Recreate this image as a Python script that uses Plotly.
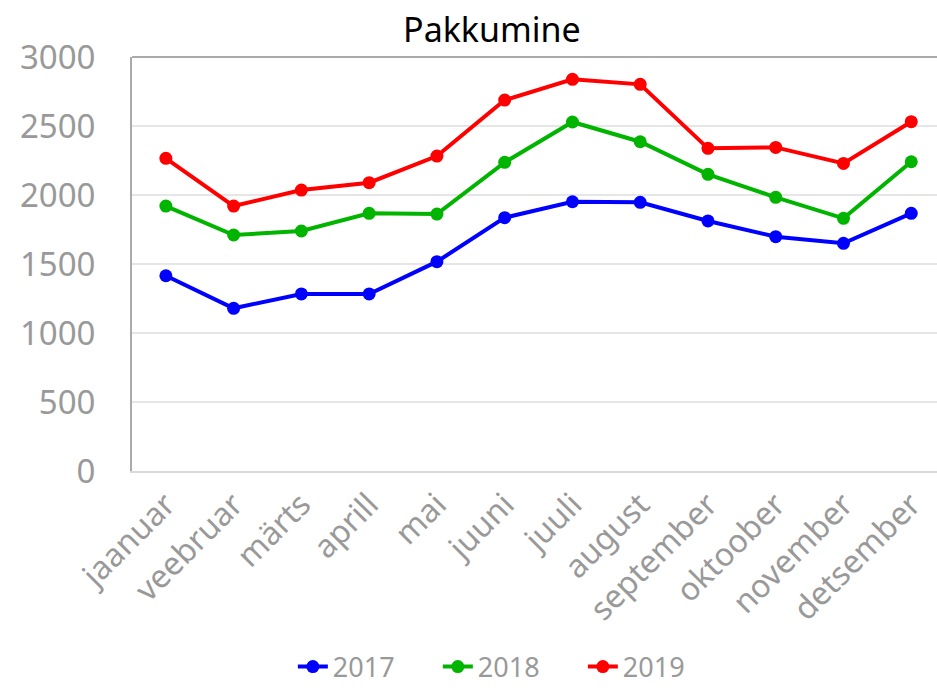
import plotly.graph_objects as go

months = ["jaanuar", "veebruar", "märts", "aprill", "mai", "juuni", "juuli",
          "august", "september", "oktoober", "november", "detsember"]
y2017 = [1415, 1179, 1283, 1283, 1517, 1836, 1951, 1947, 1812, 1698, 1650, 1867]
y2018 = [1920, 1710, 1739, 1867, 1862, 2237, 2529, 2386, 2150, 1983, 1831, 2241]
y2019 = [2266, 1920, 2036, 2089, 2282, 2688, 2838, 2802, 2338, 2345, 2229, 2531]
series = [("2017", y2017, "#0000ff"), ("2018", y2018, "#00b400"), ("2019", y2019, "#ff0000")]
yticks = [0, 500, 1000, 1500, 2000, 2500, 3000]

fig = go.Figure()
for name, vals, col in series:
    fig.add_trace(go.Scatter(x=months, y=vals, name=name, mode="lines+markers",
                             line=dict(color=col, width=4),
                             marker=dict(color=col, size=13)))

fig.update_layout(
    width=937, height=695,
    margin=dict(l=132, r=0, t=57, b=224),
    paper_bgcolor="white", plot_bgcolor="white",
    font=dict(family="Noto Sans", color="#999999", size=28),
    title=dict(text="Pakkumine", x=0.525, xanchor="center", y=0.957, yanchor="middle",
               font=dict(family="Noto Sans", color="black", size=34)),
    showlegend=True,
    legend=dict(orientation="h", x=0.47, xanchor="center",
                yref="container", y=0.005, yanchor="bottom",
                font=dict(size=27, color="#999999"), entrywidth=100),
)
fig.update_xaxes(range=[-0.5, 11.38], tickangle=-45, showgrid=False, automargin=False,
                 showline=True, linecolor="#d9d9d9", linewidth=2,
                 tickfont=dict(size=32, color="#999999"))
fig.update_yaxes(range=[0, 3000], tickvals=yticks, showgrid=True, gridcolor="#e6e6e6",
                 gridwidth=1.5, showline=True, linecolor="#aaaaaa", linewidth=2,
                 automargin=False, zeroline=False, ticklabelstandoff=28,
                 tickfont=dict(size=33, color="#999999"))
# top border
fig.add_shape(type="line", xref="paper", yref="paper", x0=0, x1=1, y0=1, y1=1,
              line=dict(color="#aaaaaa", width=2))

fig.write_html("out.html", config={"displayModeBar": False},
               post_script="document.body.style.margin='0';")
